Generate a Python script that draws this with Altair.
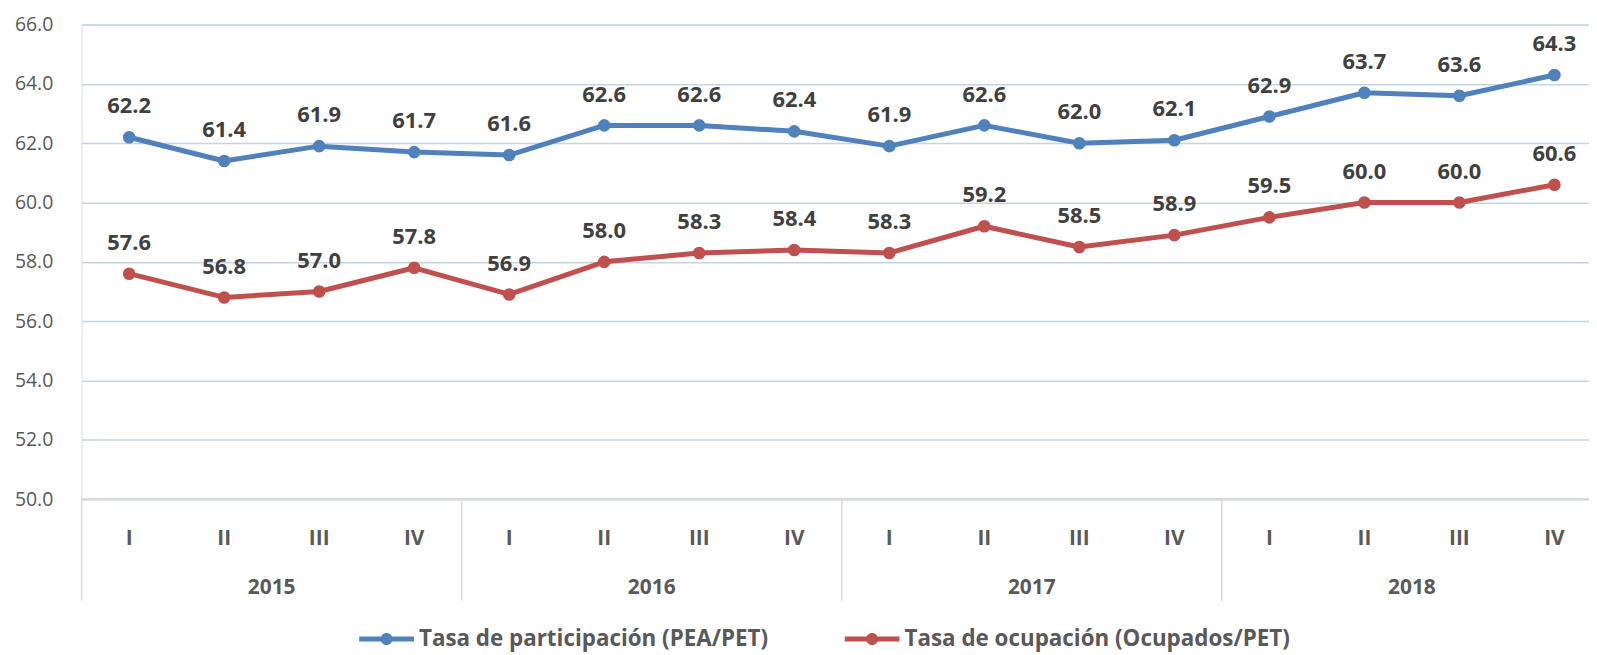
import altair as alt
import pandas as pd

# ---- data ----
quarters = ["I", "II", "III", "IV"] * 4
years = ["2015"] * 4 + ["2016"] * 4 + ["2017"] * 4 + ["2018"] * 4
participacion = [62.2, 61.4, 61.9, 61.7, 61.6, 62.6, 62.6, 62.4,
                 61.9, 62.6, 62.0, 62.1, 62.9, 63.7, 63.6, 64.3]
ocupacion = [57.6, 56.8, 57.0, 57.8, 56.9, 58.0, 58.3, 58.4,
             58.3, 59.2, 58.5, 58.9, 59.5, 60.0, 60.0, 60.6]
series_names = ["Tasa de participación (PEA/PET)", "Tasa de ocupación (Ocupados/PET)"]
series_colors = ["#4F81BD", "#C0504D"]
y_ticks = [50, 52, 54, 56, 58, 60, 62, 64, 66]
year_labels = ["2015", "2016", "2017", "2018"]
year_centers = [1.5, 5.5, 9.5, 13.5]
year_dividers = [-0.5, 3.5, 7.5, 11.5]

rows = []
for i in range(len(quarters)):
    rows.append({"idx": i, "serie": series_names[0], "valor": participacion[i]})
    rows.append({"idx": i, "serie": series_names[1], "valor": ocupacion[i]})
df = pd.DataFrame(rows)
qdf = pd.DataFrame({"idx": list(range(len(quarters))), "q": quarters})
ydf = pd.DataFrame({"pos": year_centers, "year": year_labels})
divdf = pd.DataFrame({"pos": year_dividers})

FONT = "Open Sans"
PLOT_W = 1515
PLOT_H = 477

xscale = alt.Scale(domain=[-0.5, 15.364], nice=False, zero=False)
yscale = alt.Scale(domain=[50, 66], nice=False, zero=False)
cscale = alt.Scale(domain=series_names, range=series_colors)

X = alt.X("idx:Q", scale=xscale, axis=None)
Y = alt.Y("valor:Q", scale=yscale,
          axis=alt.Axis(values=y_ticks, format=".1f", title=None, domain=False,
                        ticks=False, grid=True, gridColor="#C3D3EA", gridWidth=1.5,
                        labelFont=FONT, labelFontSize=19.5, labelColor="#595959",
                        labelPadding=29))

legend_path = ("M-1,-0.09 L1,-0.09 L1,0.09 L-1,0.09 Z "
               "M-0.22,0 A0.22,0.22 0 1,1 0.22,0 A0.22,0.22 0 1,1 -0.22,0 Z")

base = alt.Chart(df)

lines = base.mark_line(strokeWidth=5, strokeJoin="round", strokeCap="round").encode(
    x=X, y=Y,
    stroke=alt.Stroke("serie:N", scale=cscale, legend=None),
)

points = base.mark_circle(size=160, opacity=1).encode(
    x=X, y=Y,
    fill=alt.Fill("serie:N", scale=cscale,
                  legend=alt.Legend(title=None, orient="none", direction="horizontal",
                                    legendX=279, legendY=590, padding=0,
                                    symbolType=legend_path, symbolSize=3025,
                                    symbolStrokeWidth=0, symbolOpacity=1,
                                    labelFont=FONT, labelFontSize=22.5,
                                    labelFontWeight="bold", labelColor="#595959",
                                    labelOffset=5, columnPadding=76,
                                    labelLimit=600)),
)

labels = base.mark_text(dy=-24, baseline="alphabetic", font=FONT, fontSize=22,
                        fontWeight="bold", color="#404040").encode(
    x=X, y=alt.Y("valor:Q", scale=yscale),
    text=alt.Text("valor:Q", format=".1f"),
)

baseline_rule = alt.Chart(df).mark_rule(color="#D9D9D9", strokeWidth=1.5).encode(
    y=alt.datum(50, scale=yscale)
)

dividers = alt.Chart(divdf).mark_rule(color="#D9D9D9", strokeWidth=1.5).encode(
    x=alt.X("pos:Q", scale=xscale, axis=None),
    y=alt.value(PLOT_H),
    y2=alt.value(PLOT_H + 102),
)

q_text = alt.Chart(qdf).mark_text(font=FONT, fontSize=21, fontWeight="bold",
                                  color="#595959", baseline="middle").encode(
    x=alt.X("idx:Q", scale=xscale, axis=None),
    y=alt.value(PLOT_H + 40),
    text="q:N",
)

y_text = alt.Chart(ydf).mark_text(font=FONT, fontSize=21, fontWeight="bold",
                                  color="#595959", baseline="middle").encode(
    x=alt.X("pos:Q", scale=xscale, axis=None),
    y=alt.value(PLOT_H + 89),
    text="year:N",
)

chart = alt.layer(
    baseline_rule, dividers, q_text, y_text, lines, points, labels
).resolve_scale(stroke="independent", fill="independent").properties(
    width=PLOT_W,
    height=PLOT_H,
    autosize=alt.AutoSizeParams(type="none"),
    padding={"left": 74, "top": 15, "right": 0, "bottom": 152},
).configure_view(stroke=None).configure(background="white")

chart.save("out.html", embed_options={"renderer": "svg", "actions": False})
